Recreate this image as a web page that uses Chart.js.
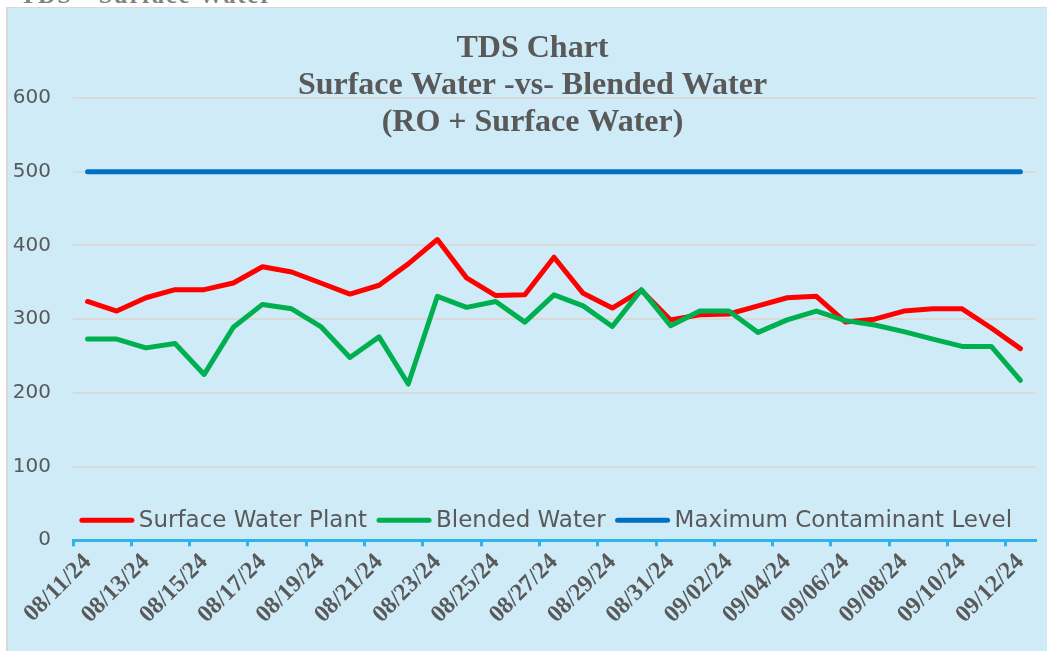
<!DOCTYPE html>
<html lang="en">
<head>
  <meta charset="UTF-8" />
  <title>TDS Chart - Surface Water vs Blended Water</title>
  <script src="https://cdn.jsdelivr.net/npm/chart.js"></script>
  <style>
    body {
      margin: 0;
      background: #fff;
      font-family: "DejaVu Sans", sans-serif;
    }

    .page-head {
      position: absolute;
      left: 20px;
      top: -18px;
      font: bold 24px "Liberation Serif", serif;
      color: #808080;
      letter-spacing: 2px;
      white-space: nowrap;
    }

    .panel {
      position: absolute;
      left: 6px;
      top: 7px;
      width: 1039px;
      height: 643px;
      background: #CFEBF8;
      border-left: 2px solid #D9D9D9;
      border-top: 1px solid #D9D9D9;
      overflow: hidden;
    }

    canvas {
      display: block;
    }
  </style>
</head>
<body>
  <div class="page-head">TDS - Surface Water</div>
  <div class="panel">
    <canvas id="tds-chart" width="1039" height="643"></canvas>
  </div>

  <script>
    // categories
    const dates = [
      '08/11/24', '08/12/24', '08/13/24', '08/14/24', '08/15/24', '08/16/24', '08/17/24',
      '08/18/24', '08/19/24', '08/20/24', '08/21/24', '08/22/24', '08/23/24', '08/24/24',
      '08/25/24', '08/26/24', '08/27/24', '08/28/24', '08/29/24', '08/30/24', '08/31/24',
      '09/01/24', '09/02/24', '09/03/24', '09/04/24', '09/05/24', '09/06/24', '09/07/24',
      '09/08/24', '09/09/24', '09/10/24', '09/11/24', '09/12/24'
    ];

    // series values (TDS, mg/L)
    const surfaceWater = [
      324, 311, 329, 340, 340, 349, 371, 364, 349, 334, 346, 375, 408, 356, 332, 333, 384,
      335, 315, 339, 299, 306, 307, 318, 329, 331, 296, 300, 311, 314, 314, 288, 260
    ];
    const blendedWater = [
      273, 273, 261, 267, 225, 289, 320, 314, 290, 248, 276, 212, 331, 316, 324, 296, 333,
      318, 290, 340, 291, 311, 311, 282, 299, 311, 298, 292, 283, 273, 263, 263, 217
    ];
    const maxContaminant = [
      500, 500, 500, 500, 500, 500, 500, 500, 500, 500, 500, 500, 500, 500, 500, 500, 500,
      500, 500, 500, 500, 500, 500, 500, 500, 500, 500, 500, 500, 500, 500, 500, 500
    ];

    // tick labels
    const yTicks = [0, 100, 200, 300, 400, 500, 600];

    const titleLines = ['TDS Chart', 'Surface Water -vs- Blended Water', '(RO + Surface Water)'];

    const textGray = '#595959';
    const axisBlue = '#2FB4E9';

    // title + legend sit on top of the plot area, so draw them by hand
    const overlay = {
      id: 'overlay',
      afterDraw(chart) {
        const { ctx, chartArea } = chart;
        ctx.save();

        ctx.fillStyle = textGray;
        ctx.textAlign = 'center';
        ctx.textBaseline = 'middle';
        ctx.font = 'bold 32px "Liberation Serif", serif';
        const cx = chart.width / 2 + 5;
        titleLines.forEach((t, i) => ctx.fillText(t, cx, 41 + i * 37));

        ctx.font = '23px "DejaVu Sans", sans-serif';
        ctx.textAlign = 'left';
        const sample = 54, gapText = 5, gapItem = 10;
        const items = chart.data.datasets;
        let total = 0;
        items.forEach((ds, i) => {
          total += sample + gapText + ctx.measureText(ds.label).width;
          if (i < items.length - 1) total += gapItem;
        });
        let x = (chartArea.left + chartArea.right) / 2 - total / 2 - 8;
        const y = chartArea.bottom - 20;
        items.forEach(ds => {
          ctx.strokeStyle = ds.borderColor;
          ctx.lineWidth = 5;
          ctx.lineCap = 'round';
          ctx.beginPath();
          ctx.moveTo(x + 2, y);
          ctx.lineTo(x + sample - 2, y);
          ctx.stroke();
          x += sample + gapText;
          ctx.fillText(ds.label, x, y + 1);
          x += ctx.measureText(ds.label).width + gapItem;
        });

        ctx.restore();
      }
    };

    new Chart(document.getElementById('tds-chart'), {
      type: 'line',
      data: {
        labels: dates,
        datasets: [
          {
            label: 'Surface Water Plant',
            data: surfaceWater,
            borderColor: '#FF0000',
            order: 1
          },
          {
            label: 'Blended Water',
            data: blendedWater,
            borderColor: '#00B050',
            order: 0
          },
          {
            label: 'Maximum Contaminant Level',
            data: maxContaminant,
            borderColor: '#0070C0',
            order: 2
          }
        ]
      },
      options: {
        responsive: false,
        animation: false,
        devicePixelRatio: 1,
        layout: {
          padding: { top: 90, right: 12, bottom: 20, left: 0 }
        },
        elements: {
          line: {
            borderWidth: 5,
            tension: 0,
            borderCapStyle: 'round',
            borderJoinStyle: 'round',
            fill: false
          },
          point: { radius: 0, hoverRadius: 0 }
        },
        plugins: {
          legend: { display: false },
          title: { display: false },
          tooltip: { enabled: false }
        },
        scales: {
          x: {
            offset: true,
            // rotated labels may hang past the left edge of the plot, like the original
            afterFit: scale => {
              scale.paddingLeft = 0;
              scale.paddingRight = 0;
            },
            grid: {
              offset: true,
              drawOnChartArea: false,
              drawTicks: true,
              tickLength: 6,
              lineWidth: 3,
              color: ctx => (ctx.index % 2 === 0 ? axisBlue : 'rgba(0,0,0,0)')
            },
            border: { color: axisBlue, width: 3 },
            ticks: {
              autoSkip: false,
              maxRotation: 45,
              minRotation: 45,
              padding: 2,
              color: textGray,
              font: { family: '"Liberation Serif", serif', size: 24, weight: 'bold' },
              callback: function (value, index) {
                return index % 2 === 0 ? this.getLabelForValue(value) : '';
              }
            }
          },
          y: {
            min: 0,
            max: 600,
            afterBuildTicks: scale => {
              scale.ticks = yTicks.map(v => ({ value: v }));
            },
            afterFit: scale => {
              scale.width = 65;
            },
            grid: {
              color: '#D9D9D9',
              lineWidth: 2,
              drawTicks: false
            },
            border: { display: false },
            ticks: {
              padding: 22,
              color: textGray,
              font: { family: '"DejaVu Sans", sans-serif', size: 20 }
            }
          }
        }
      },
      plugins: [overlay]
    });
  </script>
</body>
</html>
